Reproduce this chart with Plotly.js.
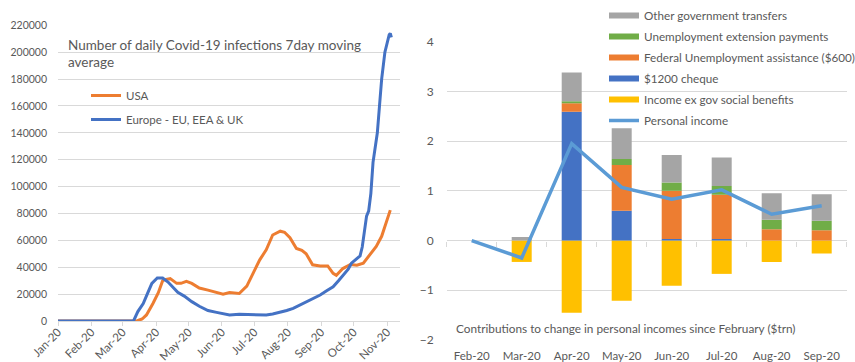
<!DOCTYPE html>
<html><head><meta charset="utf-8">
<script src="https://cdn.plot.ly/plotly-3.0.1.min.js"></script>
<style>html,body{margin:0;padding:0;background:#fff}#chart{width:855px;height:362px}</style>
</head><body><div id="chart"></div>
<script>
// ---- Left chart: daily Covid-19 infections, 7-day moving average ----
const usaDates = ['2020-01-01','2020-03-14','2020-03-19','2020-03-23','2020-03-29','2020-04-03','2020-04-07','2020-04-10','2020-04-14','2020-04-20','2020-04-24','2020-04-29','2020-05-04','2020-05-11','2020-05-19','2020-05-27','2020-06-02','2020-06-08','2020-06-14','2020-06-17','2020-06-24','2020-06-30','2020-07-06','2020-07-12','2020-07-18','2020-07-25','2020-07-29','2020-08-03','2020-08-09','2020-08-14','2020-08-18','2020-08-24','2020-08-31','2020-09-07','2020-09-12','2020-09-15','2020-09-21','2020-09-28','2020-10-04','2020-10-10','2020-10-16','2020-10-22','2020-10-27','2020-11-01','2020-11-04'];
const usaCases = [0,0,1500,4500,13000,21000,30000,31000,31500,28000,28000,29500,28000,24500,23000,21000,20000,21200,20800,20500,26000,35500,45500,53000,64000,66800,66000,62000,54000,52500,50000,41800,41000,41000,35500,34000,39000,42000,41500,43000,49000,55500,63000,75000,82500];
const euDates = ['2020-01-01','2020-03-11','2020-03-15','2020-03-20','2020-03-24','2020-03-28','2020-04-02','2020-04-07','2020-04-12','2020-04-17','2020-04-21','2020-04-27','2020-05-04','2020-05-11','2020-05-19','2020-05-27','2020-06-02','2020-06-08','2020-06-17','2020-06-30','2020-07-06','2020-07-12','2020-07-18','2020-07-25','2020-07-31','2020-08-06','2020-08-12','2020-08-18','2020-08-24','2020-08-31','2020-09-06','2020-09-12','2020-09-17','2020-09-21','2020-09-26','2020-09-29','2020-10-02','2020-10-07','2020-10-09','2020-10-11','2020-10-13','2020-10-15','2020-10-17','2020-10-19','2020-10-23','2020-10-25','2020-10-27','2020-10-30','2020-11-01','2020-11-03','2020-11-04','2020-11-05'];
const euCases = [0,0,7000,13000,20500,28000,32000,32000,29000,25000,21300,18500,14400,11000,7800,6400,5700,4500,5000,5000,4500,4500,5200,6400,7800,9400,11800,13600,16300,19300,22500,25500,30000,34000,38600,43000,45300,48500,55000,68000,78000,82000,95000,118000,140000,160000,180000,200000,207000,213000,214000,211000];

// ---- Right chart: contributions to change in personal incomes ($trn) ----
const months = ['Feb-20','Mar-20','Apr-20','May-20','Jun-20','Jul-20','Aug-20','Sep-20'];
const incomeExGov = [0,-0.43,-1.45,-1.21,-0.91,-0.67,-0.43,-0.26];
const cheque1200 = [0,0,2.59,0.60,0.03,0.03,0,0];
const fedUnemp600 = [0,0,0.17,0.92,0.97,0.89,0.23,0.21];
const unempExt = [0,0,0.04,0.12,0.17,0.18,0.19,0.19];
const otherGov = [0,0.07,0.58,0.62,0.55,0.57,0.53,0.53];
const personalIncome = [0,-0.35,1.95,1.07,0.83,1.02,0.53,0.70];

const W = 855, H = 362;
const px = v => v / W, py = v => 1 - v / H;
const FONT = 'Lato, "Open Sans", sans-serif';
const TXT = '#595959', GRID = '#d9d9d9';
const C = {gray:'#a5a5a5', green:'#70ad47', orange:'#ed7d31', blue:'#4472c4', yellow:'#ffc000', line:'#5b9bd5'};

const y2dom = [py(340), py(41.7)];

const traces = [
  {type:'scatter', mode:'lines', x:usaDates, y:usaCases, name:'USA', line:{color:C.orange, width:3}, xaxis:'x', yaxis:'y', legend:'legend', legendgroup:'usa', legendrank:1},
  {type:'scatter', mode:'lines', x:euDates, y:euCases, name:'Europe - EU, EEA & UK', line:{color:C.blue, width:3}, xaxis:'x', yaxis:'y', legend:'legend', legendgroup:'eu', legendrank:2},
  {type:'bar', x:months, y:incomeExGov, name:'Income ex gov social benefits', marker:{color:C.yellow}, xaxis:'x2', yaxis:'y2', showlegend:false},
  {type:'bar', x:months, y:cheque1200, name:'$1200 cheque', marker:{color:C.blue}, xaxis:'x2', yaxis:'y2', showlegend:false},
  {type:'bar', x:months, y:fedUnemp600, name:'Federal Unemployment assistance ($600)', marker:{color:C.orange}, xaxis:'x2', yaxis:'y2', showlegend:false},
  {type:'bar', x:months, y:unempExt, name:'Unemployment extension payments', marker:{color:C.green}, xaxis:'x2', yaxis:'y2', showlegend:false},
  {type:'bar', x:months, y:otherGov, name:'Other government transfers', marker:{color:C.gray}, xaxis:'x2', yaxis:'y2', showlegend:false},
  {type:'scatter', mode:'lines', x:months, y:personalIncome, name:'Personal income', line:{color:C.line, width:3.5}, xaxis:'x2', yaxis:'y2', legend:'legend2', legendgroup:'pi', legendrank:6},
  {type:'scatter', mode:'lines', x:months, y:months.map(()=>null), xaxis:'x3', yaxis:'y2', showlegend:false, hoverinfo:'skip'}
];
// legend swatches for bars (wide rectangles like the reference)
const sw = [['Other government transfers',C.gray,1],['Unemployment extension payments',C.green,2],['Federal Unemployment assistance ($600)',C.orange,3],['$1200 cheque',C.blue,4],['Income ex gov social benefits',C.yellow,5]];
sw.forEach((s,i) => traces.push({type:'scatter', mode:'lines', x:[null], y:[null], name:s[0], line:{color:s[1], width:6}, xaxis:'x2', yaxis:'y2', legend:'legend2', legendgroup:'g'+i, legendrank:s[2]}));

const layout = {
  width:W, height:H, margin:{l:0,r:0,t:0,b:0, autoexpand:false}, paper_bgcolor:'#fff', plot_bgcolor:'rgba(0,0,0,0)',
  font:{family:FONT, size:12, color:TXT}, barmode:'relative', bargap:0.6, showlegend:true,
  xaxis:{domain:[px(58), px(400)], type:'date', range:['2020-01-01','2020-11-13'], dtick:'M1', tick0:'2020-01-01', tickformat:'%b-%y', tickangle:-45,
         ticks:'outside', ticklen:4, tickcolor:GRID, showgrid:false, showline:true, linecolor:GRID, zeroline:false, tickfont:{size:11.5, color:TXT}, ticklabelstandoff:-5},
  yaxis:{domain:[py(321), py(25.3)], range:[0,220000], dtick:20000, gridcolor:GRID, showline:false, zeroline:false, tickfont:{size:10.5, color:TXT}, ticklabelstandoff:10, tickformat:'d'},
  xaxis2:{domain:[px(446.7), px(846.7)], anchor:'y2', type:'category', range:[-0.5,7.5], showgrid:false, showline:false, ticks:'', tickfont:{size:11.5, color:TXT}, ticklabelstandoff:7},
  xaxis3:{overlaying:'x2', matches:'x2', anchor:'free', position:y2dom[0]+(y2dom[1]-y2dom[0])*(2/6), type:'category', showgrid:false, showline:false, zeroline:false,
          ticks:'outside', tickson:'boundaries', ticklen:5, tickcolor:GRID, showticklabels:false},
  yaxis2:{domain:y2dom, anchor:'x2', range:[-2,4], dtick:1, gridcolor:GRID, zeroline:true, zerolinecolor:GRID, zerolinewidth:1, showline:false, tickfont:{size:12, color:TXT}, ticklabelstandoff:12},
  legend:{x:px(86), y:py(81), xanchor:'left', yanchor:'top', bgcolor:'rgba(0,0,0,0)', font:{size:11.5, color:TXT}, traceorder:'grouped', tracegroupgap:5, itemwidth:30},
  legend2:{x:px(604), y:py(1), xanchor:'left', yanchor:'top', bgcolor:'rgba(0,0,0,0)', font:{size:11.7, color:TXT}, traceorder:'grouped', tracegroupgap:2, itemwidth:30},
  annotations:[
    {xref:'paper', yref:'paper', x:px(66), y:py(45), xanchor:'left', yanchor:'middle', align:'left', showarrow:false,
     text:'Number of daily Covid-19 infections 7day moving', font:{size:13.5, color:TXT}},
    {xref:'paper', yref:'paper', x:px(66), y:py(62.5), xanchor:'left', yanchor:'middle', align:'left', showarrow:false,
     text:'average', font:{size:13.5, color:TXT}},
    {xref:'paper', yref:'paper', x:px(454), y:py(328), xanchor:'left', yanchor:'middle', showarrow:false,
     text:'Contributions to change in personal incomes since February ($trn)', font:{size:11.8, color:TXT}}
  ]
};
Plotly.newPlot('chart', traces, layout, {staticPlot:true});
</script></body></html>
